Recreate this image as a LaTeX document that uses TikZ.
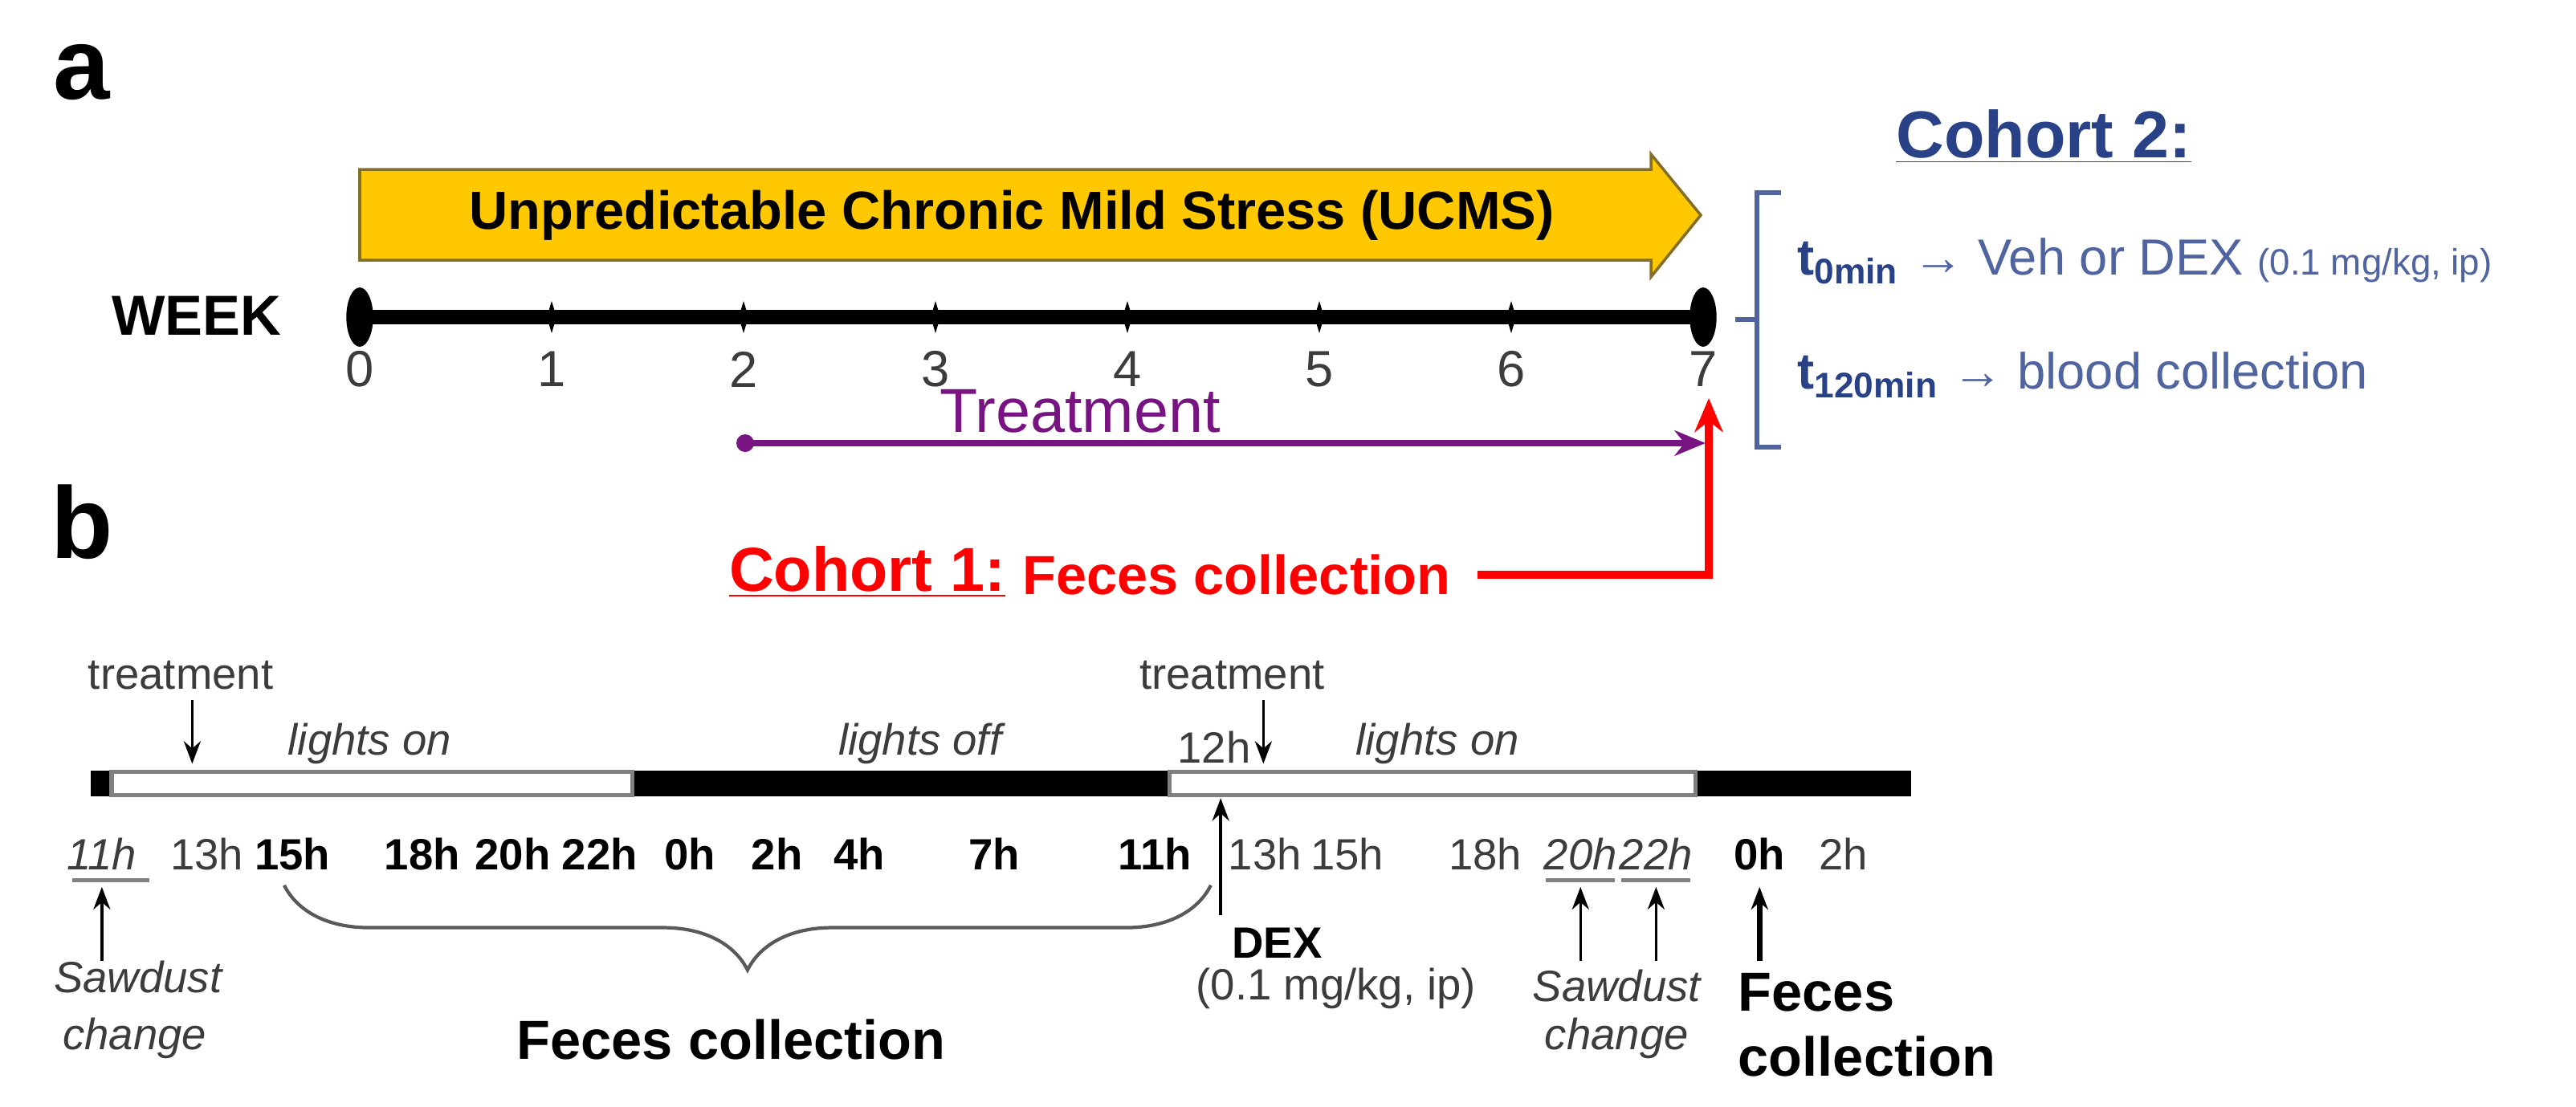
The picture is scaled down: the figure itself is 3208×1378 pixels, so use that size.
\documentclass[tikz,border=0pt]{standalone}
\usepackage{fontspec}
\setmainfont{Liberation Sans}
\usetikzlibrary{arrows.meta,decorations.pathreplacing,shapes.geometric}
\definecolor{ucms}{RGB}{255,200,0}
\definecolor{ucmsb}{RGB}{130,110,40}
\definecolor{cblue}{RGB}{40,65,135}
\definecolor{lblue}{RGB}{80,100,160}
\definecolor{purp}{RGB}{120,20,130}
\definecolor{gtext}{RGB}{60,60,60}
\newcommand{\fs}[1]{\fontsize{#1}{#1}\selectfont}
\tikzset{x=0.01cm,y=-0.01cm,
 lab/.style={font=\fs{15.5}, text=gtext, inner sep=1pt},
 blab/.style={font=\fs{15.5}\bfseries, inner sep=1pt},
 ilab/.style={font=\fs{15.5}\itshape, text=gtext, inner sep=1pt},
 arr/.style={-{Stealth[length=8pt,width=6pt]}, line width=1pt},
 endell/.style={ellipse, fill=black, minimum width=9.5pt, minimum height=21pt, inner sep=0pt}}
\begin{document}
\begin{tikzpicture}
\useasboundingbox (0,0) rectangle (3208,1378);
% ---- a
\node[font=\fs{36}\bfseries] (la) at (102,90) {a};
\draw[fill=ucms, draw=ucmsb, line width=1pt] (448,211) -- (2056,211) -- (2056,192) -- (2118,268) -- (2056,345) -- (2056,324) -- (448,324) -- cycle;
\node[font=\fs{19}\bfseries] (ucmst) at (1260,268) {Unpredictable Chronic Mild Stress (UCMS)};
\node[font=\fs{20}\bfseries] (week) at (245,393) {WEEK};
\foreach \i in {0,...,7}{
  \coordinate (w\i) at (448+239*\i,395);
  \node[font=\fs{18}, text=gtext] (n\i) at (448+239*\i,460) {\i};
}
\draw[line width=5pt] (w0) -- (w7);
\foreach \i in {1,...,6}{\fill (w\i) ++(-6,0) -- ++(6,-20) -- ++(6,20) -- ++(-6,20) -- cycle;}
\node[endell] (e0) at (w0) {};
\node[endell] (e7) at (w7) {};
\node[font=\fs{22}, text=purp] (treat) at (1345,512) {Treatment};
\coordinate (ps) at (928,552);
\coordinate (pe) at (2124,552);
\fill[purp] (ps) circle (11);
\draw[purp, line width=2.5pt, -{Stealth[length=11pt,width=9pt]}] (ps) -- (pe);
\node[font=\fs{22}\bfseries, text=red] (c1) at (1080,712) {\underline{Cohort 1:}};
\node[font=\fs{19.5}\bfseries, text=red] (fc1) at (1540,716) {Feces collection};
\coordinate (rc) at (2128,716);
\coordinate (rt) at (2128,496);
\draw[red, line width=3pt, -{Stealth[length=12pt,width=10pt]}] (1840,716) -- (rc) -- (rt);
\node[font=\fs{23.5}\bfseries, text=cblue] (c2) at (2545,170) {\underline{Cohort 2:}};
\draw[lblue, line width=1.5pt] (2218,240) -- (2188,240) -- (2188,557) -- (2218,557);
\draw[lblue, line width=1.5pt] (2161,398) -- (2188,398);
\node[anchor=west, font=\fs{18}, text=lblue] (t0) at (2226,325) {\textbf{\color{cblue}t\textsubscript{0min}} → Veh or DEX {\fs{13}(0.1 mg/kg, ip)}};
\node[anchor=west, font=\fs{18}, text=lblue] (t120) at (2226,467) {\textbf{\color{cblue}t\textsubscript{120min}} → blood collection};
% ---- b
\node[font=\fs{36}\bfseries] (lb) at (102,650) {b};
\begin{scope}[scale=1.023]
\fill[black] (110,938) rectangle (2326,970);
\draw[gray, line width=1.5pt, fill=white] (136,940) rectangle (770,968);
\draw[gray, line width=1.5pt, fill=white] (1424,940) rectangle (2064,968);
\node[lab] (tr1) at (220,822) {treatment};
\draw[arr] (234,852) -- (234,930);
\node[lab] (tr2) at (1500,822) {treatment};
\draw[arr] (1538,852) -- (1538,930);
\node[lab] (h12) at (1478,910) {12h};
\node[ilab] (lo1) at (450,906) {lights on};
\node[ilab] (lf) at (1120,906) {lights off};
\node[ilab] (lo2) at (1750,906) {lights on};
\node[ilab] (h11a) at (124,1040) {11h};
\draw[gray, line width=1.5pt] (88,1072) -- (182,1072);
\node[lab] (h13a) at (252,1040) {13h};
\foreach \n/\x/\t in {h15a/356/15h, h18a/514/18h, h20a/624/20h, h22a/730/22h, h0a/840/0h, h2a/946/2h, h4a/1046/4h, h7a/1210/7h, h11b/1406/11h}{
  \node[blab] (\n) at (\x,1040) {\t};}
\node[lab] (h13b) at (1540,1040) {13h};
\node[lab] (h15b) at (1640,1040) {15h};
\node[lab] (h18b) at (1808,1040) {18h};
\node[ilab] (h20b) at (1924,1040) {20h};
\draw[gray, line width=1.5pt] (1882,1072) -- (1966,1072);
\node[ilab] (h22b) at (2016,1040) {22h};
\draw[gray, line width=1.5pt] (1974,1072) -- (2058,1072);
\node[blab] (h0b) at (2142,1040) {0h};
\node[lab] (h2b) at (2244,1040) {2h};
\draw[arr] (124,1170) -- (124,1080);
\node[ilab] (saw1) at (168,1190) {Sawdust};
\node[ilab] (ch1) at (164,1264) {change};
\draw[arr] (1486,1114) -- (1486,972);
\node[blab, anchor=west] (dex) at (1496,1148) {DEX};
\node[lab, anchor=west] (dose) at (1452,1204) {(0.1 mg/kg, ip)};
\draw[gray!70!black, line width=1.2pt, decorate, decoration={brace, mirror, amplitude=30pt}] (346,1078) -- (1474,1078);
\node[font=\fs{19.5}\bfseries] (fc) at (890,1266) {Feces collection};
\draw[arr] (1924,1170) -- (1924,1080);
\draw[arr] (2016,1170) -- (2016,1080);
\node[ilab] (saw2) at (1968,1200) {Sawdust};
\node[ilab] (ch2) at (1968,1264) {change};
\draw[arr, line width=2pt] (2142,1170) -- (2142,1080);
\node[font=\fs{19.5}\bfseries, anchor=west] (fc3) at (2104,1208) {Feces};
\node[font=\fs{19.5}\bfseries, anchor=west] (fc4) at (2104,1286) {collection};
\end{scope}
\end{tikzpicture}
\end{document}
